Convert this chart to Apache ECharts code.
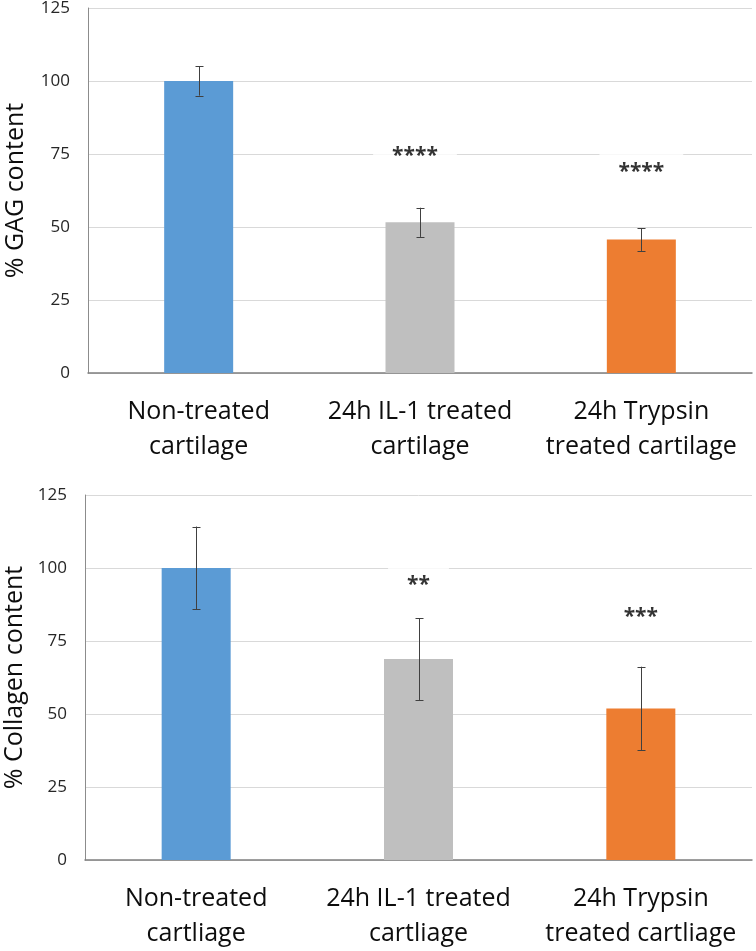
<!DOCTYPE html>
<html>
<head>
<meta charset="utf-8">
<script src="https://cdn.jsdelivr.net/npm/echarts@6/dist/echarts.min.js"></script>
<style>
html,body{margin:0;padding:0;background:#fff;}
#c{width:756px;height:951px;}
</style>
</head>
<body>
<div id="c"></div>
<script>
// ---- data ----
const categoriesTop = ['Non-treated\ncartilage', '24h IL-1 treated\ncartilage', '24h Trypsin\ntreated cartilage'];
const categoriesBottom = ['Non-treated\ncartliage', '24h IL-1 treated\ncartliage', '24h Trypsin\ntreated cartliage'];
const gagMean = [100, 51.6, 45.7];
const gagErr = [5, 5, 3.9];
const collagenMean = [100, 68.8, 51.9];
const collagenErr = [14.2, 14.0, 14.3];
const gagSigLabels = ['', '****', '****'];
const gagSigY = [null, 76, 70.6];
const collagenSigLabels = ['', '**', '***'];
const collagenSigY = [null, 95.8, 84.8];
const yTicks = [0, 25, 50, 75, 100, 125];
const yNameTop = '% GAG content';
const yNameBottom = '% Collagen content';

// ---- styles ----
const barColors = ['#5B9BD5', '#BFBFBF', '#ED7D31'];
const FONT = '"Open Sans", "Noto Sans", sans-serif';

function barSeries(values, idx) {
  return {
    type: 'bar',
    xAxisIndex: idx, yAxisIndex: idx,
    barWidth: 69,
    data: values.map((v, i) => ({ value: v, itemStyle: { color: barColors[i] } })),
    z: 2
  };
}
function errSeries(values, errs, idx) {
  return {
    type: 'custom',
    xAxisIndex: idx, yAxisIndex: idx,
    z: 5,
    data: values.map((v, i) => [i, v - errs[i], v + errs[i]]),
    renderItem: function (params, api) {
      const lo = api.coord([api.value(0), api.value(1)]);
      const hi = api.coord([api.value(0), api.value(2)]);
      const x = Math.round(lo[0]) + 0.5;
      const cap = 4;
      const st = { stroke: '#404040', lineWidth: 1 };
      return {
        type: 'group',
        children: [
          { type: 'line', shape: { x1: x, y1: hi[1], x2: x, y2: lo[1] }, style: st },
          { type: 'line', shape: { x1: x - cap, y1: Math.round(hi[1]) + 0.5, x2: x + cap, y2: Math.round(hi[1]) + 0.5 }, style: st },
          { type: 'line', shape: { x1: x - cap, y1: Math.round(lo[1]) + 0.5, x2: x + cap, y2: Math.round(lo[1]) + 0.5 }, style: st }
        ]
      };
    }
  };
}
function sigSeries(labels, ys, idx, dx) {
  const data = [];
  labels.forEach((l, i) => {
    if (l) data.push({ value: [i, ys[i]], name: l, label: { offset: [dx[i], 5] } });
  });
  return {
    type: 'scatter',
    xAxisIndex: idx, yAxisIndex: idx,
    symbolSize: 0,
    z: 4,
    silent: true,
    data: data,
    label: {
      show: true,
      position: 'inside',
      formatter: p => p.name,
      fontFamily: FONT,
      fontSize: 21,
      fontWeight: 'bold',
      color: '#000',
      backgroundColor: '#fff',
      padding: [16, 19, 10, 19]
    }
  };
}

function xAxis(cats, idx) {
  return {
    type: 'category', gridIndex: idx, data: cats,
    axisTick: { show: false },
    axisLine: { show: true, lineStyle: { color: '#7f7f7f', width: 1.5 } },
    axisLabel: { interval: 0, margin: 21, fontFamily: FONT, fontSize: 25, lineHeight: 35, color: '#0d0d0d' },
    splitLine: { show: false }
  };
}
function yAxis(name, idx, gap) {
  return {
    type: 'value', gridIndex: idx, min: yTicks[0], max: yTicks[yTicks.length - 1], interval: 25,
    name: name, nameLocation: 'middle', nameGap: gap,
    nameTextStyle: { fontFamily: FONT, fontSize: 25, color: '#0d0d0d' },
    axisLine: { show: true, lineStyle: { color: '#8c8c8c', width: 1 } },
    axisTick: { show: false },
    axisLabel: { margin: 18, fontFamily: FONT, fontSize: 17, color: '#262626' },
    splitLine: { show: true, lineStyle: { color: '#d9d9d9', width: 1 } }
  };
}

const chart = echarts.init(document.getElementById('c'), null, { renderer: 'canvas' });
chart.setOption({
  backgroundColor: '#fff',
  animation: false,
  grid: [
    { left: 88, top: 8, right: 4, height: 365, containLabel: false, outerBoundsMode: 'none' },
    { left: 85, top: 495, right: 4, height: 365, containLabel: false, outerBoundsMode: 'none' }
  ],
  xAxis: [xAxis(categoriesTop, 0), xAxis(categoriesBottom, 1)],
  yAxis: [yAxis(yNameTop, 0, 60), yAxis(yNameBottom, 1, 51)],
  series: [
    barSeries(gagMean, 0),
    errSeries(gagMean, gagErr, 0),
    sigSeries(gagSigLabels, gagSigY, 0, [0, -5, 0]),
    barSeries(collagenMean, 1),
    errSeries(collagenMean, collagenErr, 1),
    sigSeries(collagenSigLabels, collagenSigY, 1, [0, 0, 0])
  ]
});
</script>
</body>
</html>
